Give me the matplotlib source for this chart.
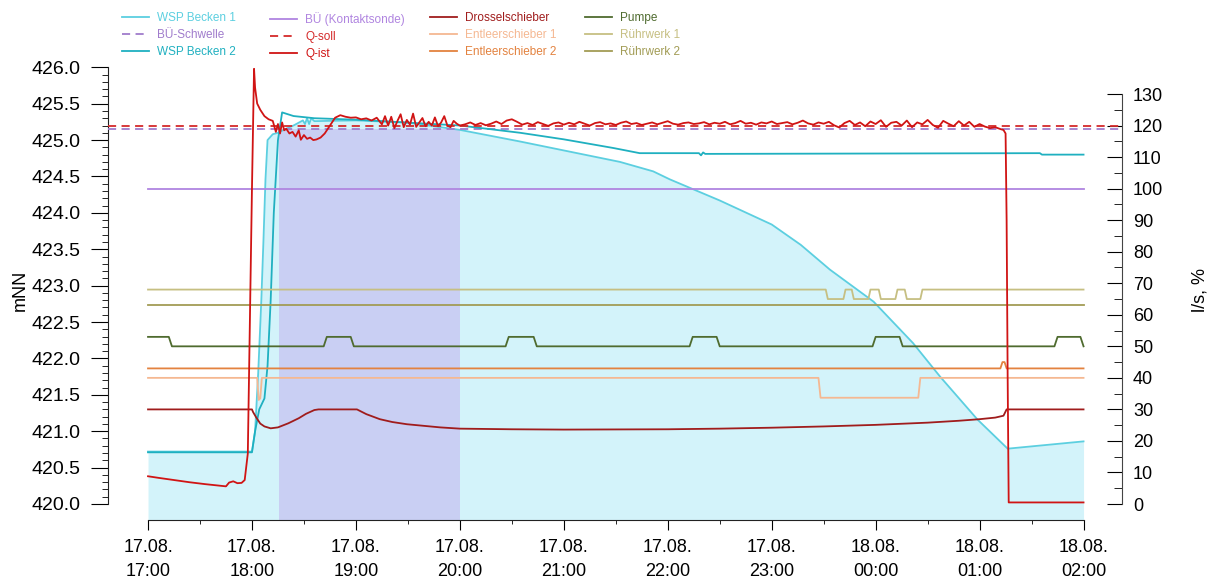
import numpy as np
import pandas as pd
import matplotlib
matplotlib.use("Agg")
import matplotlib.pyplot as plt
import matplotlib.dates as mdates
from matplotlib.ticker import FixedLocator, FormatStrFormatter

plt.rcParams['font.family'] = ['Liberation Sans', 'DejaVu Sans']

# Start of the record, all times below are hours after 17.08. 17:00
base = pd.Timestamp('2021-08-17 17:00')

# Water levels (mNN)
wsp1_t = [0, 1.00, 1.03, 1.06, 1.09, 1.11, 1.13, 1.15, 1.20, 1.25, 1.32, 1.40, 1.49, 1.51, 1.53,
          1.55, 1.57, 1.60, 2.0, 2.5, 3.0, 3.58, 4.06, 4.54, 4.86, 5.02, 5.5, 6.0, 6.28, 6.56,
          6.98, 7.36, 7.62, 7.98, 8.27, 9.0]
wsp1_v = [420.72, 420.72, 421.0, 421.8, 422.8, 423.6, 424.46, 425.0, 425.08, 425.1, 425.15, 425.2,
          425.27, 425.22, 425.3, 425.22, 425.3, 425.26, 425.27, 425.24, 425.14, 424.98, 424.84,
          424.70, 424.57, 424.46, 424.17, 423.84, 423.56, 423.22, 422.78, 422.21, 421.75, 421.16,
          420.76, 420.86]
wsp2_t = [0, 1.00, 1.03, 1.07, 1.12, 1.15, 1.18, 1.21, 1.25, 1.29, 1.40, 1.60, 2.0, 3.0, 3.58,
          4.0, 4.48, 4.73, 5.30, 5.32, 5.34, 5.36, 8.58, 8.60, 9.0]
wsp2_v = [420.71, 420.71, 421.0, 421.3, 421.45, 421.9, 422.8, 424.0, 425.0, 425.38, 425.33, 425.3,
          425.28, 425.2, 425.10, 425.01, 424.89, 424.82, 424.82, 424.79, 424.83, 424.81, 424.82,
          424.80, 424.80]
bue_schwelle = 425.15
ueberlauf_t = [1.26, 3.0]

# Flow / gate values (l/s, %)
q_soll = 120
bue_kontakt = 100
qist_t = [0.00, 0.10, 0.25, 0.40, 0.55, 0.70, 0.75, 0.78, 0.82, 0.86, 0.90, 0.93, 0.96, 0.98,
          1.00, 1.02, 1.03, 1.05, 1.08, 1.12, 1.16, 1.20, 1.23, 1.25, 1.27, 1.29, 1.31, 1.33,
          1.36, 1.39, 1.42, 1.45, 1.47, 1.50, 1.53, 1.56, 1.59, 1.62, 1.66, 1.70, 1.75, 1.80,
          1.85, 1.90, 1.95, 2.00, 2.05, 2.10, 2.15, 2.20, 2.25, 2.28, 2.31, 2.34, 2.37, 2.40,
          2.43, 2.46, 2.49, 2.52, 2.55, 2.58, 2.61, 2.64, 2.67, 2.70, 2.73, 2.76, 2.79, 2.82,
          2.85, 2.88, 2.91, 2.94, 2.97, 3.00]
qist_v = [8.8, 8.3, 7.6, 6.9, 6.3, 5.8, 5.6, 6.8, 7.2, 6.6, 6.7, 7.6, 16, 58,
          100, 138, 132, 127, 125, 123, 122, 121.5, 118, 120.5, 117.5, 121, 118.5, 119,
          117.5, 118, 116.5, 118.5, 115.5, 117, 115.8, 116.2, 115.4, 115.6, 116.2, 117.5, 120, 122.5,
          123.3, 122.8, 122.5, 122.6, 122.0, 122.3, 121.6, 122.5, 120.4, 123.0, 120.0, 122.8, 119.2, 121.5,
          123.6, 119.5, 121.8, 120.3, 123.8, 119.6, 121.0, 122.4, 119.8, 121.2, 120.0, 122.6, 119.8, 121.0,
          123.0, 120.0, 119.5, 121.5, 120.6, 120.0]
# logger samples every 3 min from 20:03 to 01:12
qist_late = [120.4, 121.0, 120.2, 120.8, 120.1, 120.6, 121.3, 120.5,
             121.6, 122.0, 121.2, 120.3,
             120.8, 120.2, 121.1, 120.5, 119.9, 120.7, 121.0, 120.3, 120.9, 120.4, 121.2, 120.6,
             120.0, 120.8, 121.1, 120.4, 120.7, 120.2,
             120.9, 121.3, 120.5, 120.8, 120.2, 120.6, 121.0, 120.4, 120.9, 121.4, 120.6, 120.3,
             120.8, 121.0, 120.5, 120.7, 121.1, 120.4, 120.9, 120.6,
             121.2, 120.4, 120.8, 121.5, 120.6, 120.9, 120.3, 121.0, 120.7, 121.3, 120.5, 120.8,
             121.1, 120.4, 120.9, 121.6, 120.7, 120.3, 121.0, 120.6,
             121.2, 120.1, 119.4, 120.8, 121.5, 120.2, 121.0, 119.8, 121.3, 120.5, 121.7, 119.6,
             120.9, 121.2, 120.0, 121.6, 119.5, 121.0, 120.4, 121.8,
             120.2, 119.3, 121.5, 120.6, 119.8, 121.4, 120.0, 121.2, 119.6, 120.5, 119.7, 119.2,
             119.5, 118.9]
qist_late_t = 3.05 + 0.05 * np.arange(len(qist_late))
qist_end_t = [8.23, 8.25, 8.26, 8.27, 8.28, 9.0]
qist_end_v = [118.6, 117.5, 90, 40, 0.5, 0.5]

drossel_t = [0, 1.00, 1.01, 1.04, 1.08, 1.12, 1.18, 1.25, 1.35, 1.45, 1.52, 1.60, 1.64, 2.01,
             2.10, 2.23, 2.35, 2.49, 2.65, 2.81, 3.0, 3.5, 4.0, 5.0, 5.5, 6.0, 6.5, 7.0, 7.5,
             7.8, 8.0, 8.15, 8.23, 8.26, 9.0]
drossel_v = [30, 30, 29.2, 27.5, 25.5, 24.6, 24.0, 24.3, 25.6, 27.2, 28.6, 29.8, 30, 30,
             28.5, 26.9, 26.0, 25.3, 24.8, 24.3, 23.9, 23.7, 23.6, 23.7, 23.9, 24.2, 24.6, 25.1,
             25.8, 26.4, 26.9, 27.4, 28.0, 30, 30]
es1_t = [0, 1.05, 1.065, 1.08, 1.095, 6.45, 6.47, 7.41, 7.43, 9.0]
es1_v = [40, 40, 33, 33.5, 40, 40, 33.7, 33.7, 40, 40]
es2_t = [0, 8.20, 8.22, 8.24, 8.26, 9.0]
es2_v = [43, 43, 45, 45, 43, 43]
pumpe_t = [0, 0.20, 0.23, 1.69, 1.72, 1.95, 1.98, 3.44, 3.47, 3.71, 3.74, 5.21, 5.24, 5.47,
           5.50, 6.97, 7.00, 7.23, 7.26, 8.72, 8.75, 8.97, 9.0]
pumpe_v = [53, 53, 50, 50, 53, 53, 50, 50, 53, 53, 50, 50, 53, 53,
           50, 50, 53, 53, 50, 50, 53, 53, 50]
rw1_t = [0, 6.52, 6.54, 6.69, 6.71, 6.77, 6.79, 6.93, 6.95, 7.03, 7.05, 7.19, 7.21, 7.28,
         7.30, 7.43, 7.45, 9.0]
rw1_v = [68, 68, 65, 65, 68, 68, 65, 65, 68, 68, 65, 65, 68, 68, 65, 65, 68, 68]
rw2_t = [0, 9.0]
rw2_v = [63, 63]
bue_t = [0, 9.0]


def T(h):
    return base + pd.to_timedelta(np.asarray(h, dtype=float), unit='h')


def num(h):
    return mdates.date2num(T(h))


fig = plt.figure(figsize=(12.11, 5.83), dpi=100)
ax = fig.add_axes([108 / 1211, 63 / 583, 1014 / 1211, 460 / 583])
ax2 = ax.twinx()

ylo, yhi = 419.78, 426.10
ax.set_ylim(ylo, yhi)
ax2.set_ylim(-5.07, 140.8)
ax.set_xlim(T(-0.385), T(9.37))

# filled basin level + overflow period
ax.fill_between(T(wsp1_t), ylo, wsp1_v, color='#d3f3fa', lw=0, zorder=1)
ax.fill_between(T(ueberlauf_t), ylo, bue_schwelle, color='#c9cff3', lw=0, zorder=2)

c = dict(wsp1='#5ccfe0', wsp2='#1fb0c0', schwelle='#a07ccc', kontakt='#b085e0', qsoll='#d42a2a',
         qist='#d01414', drossel='#a01c1c', es1='#f5b892', es2='#e3823f', pumpe='#4f6b2f',
         rw1='#c6bf82', rw2='#a29c55')
lw = 1.3
h = {}
h['wsp1'], = ax.plot(T(wsp1_t), wsp1_v, color=c['wsp1'], lw=lw, zorder=5, label='WSP Becken 1')
h['schwelle'] = ax.axhline(bue_schwelle, color=c['schwelle'], lw=lw, dashes=(4.5, 3), zorder=5,
                           label='BÜ-Schwelle')
h['wsp2'], = ax.plot(T(wsp2_t), wsp2_v, color=c['wsp2'], lw=lw, zorder=5, label='WSP Becken 2')

h['kontakt'], = ax2.plot(T(bue_t), [bue_kontakt] * 2, color=c['kontakt'], lw=lw, label='BÜ (Kontaktsonde)')
h['qsoll'] = ax2.axhline(q_soll, color=c['qsoll'], lw=lw, dashes=(4.5, 3), label='Q-soll')
h['drossel'], = ax2.plot(T(drossel_t), drossel_v, color=c['drossel'], lw=lw, label='Drosselschieber')
h['es1'], = ax2.plot(T(es1_t), es1_v, color=c['es1'], lw=lw, label='Entleerschieber 1')
h['es2'], = ax2.plot(T(es2_t), es2_v, color=c['es2'], lw=lw, label='Entleerschieber 2')
h['pumpe'], = ax2.plot(T(pumpe_t), pumpe_v, color=c['pumpe'], lw=lw, label='Pumpe')
h['rw1'], = ax2.plot(T(rw1_t), rw1_v, color=c['rw1'], lw=lw, label='Rührwerk 1')
h['rw2'], = ax2.plot(T(rw2_t), rw2_v, color=c['rw2'], lw=lw, label='Rührwerk 2')
qt = list(qist_t) + list(qist_late_t) + qist_end_t
qv = qist_v + qist_late + qist_end_v
h['qist'], = ax2.plot(T(qt), qv, color=c['qist'], lw=lw, label='Q-ist')

# spines
for a in (ax, ax2):
    a.spines['top'].set_visible(False)
ax.spines['right'].set_visible(False)
ax2.spines['left'].set_visible(False)
ax2.spines['bottom'].set_visible(False)
ax.spines['left'].set_bounds(420, 426)
ax2.spines['right'].set_bounds(0, 130)
ax.spines['bottom'].set_bounds(num(0), num(9))
for s in ('left', 'bottom'):
    ax.spines[s].set_color('#222222')
ax2.spines['right'].set_color('#444444')

# left axis
ax.yaxis.set_major_locator(FixedLocator(np.arange(420, 426.01, 0.5)))
ax.yaxis.set_minor_locator(FixedLocator(np.arange(420, 426.01, 0.1)))
ax.yaxis.set_major_formatter(FormatStrFormatter('%.1f'))
ax.tick_params(axis='y', which='major', direction='out', length=12, labelsize=14, pad=8)
ax.tick_params(axis='y', which='minor', direction='out', length=4)

# right axis
ax2.yaxis.set_major_locator(FixedLocator(np.arange(0, 131, 10)))
ax2.yaxis.set_minor_locator(FixedLocator(np.arange(0, 131, 5)))
ax2.tick_params(axis='y', which='major', direction='in', length=11, labelsize=13, pad=8)
ax2.tick_params(axis='y', which='minor', direction='in', length=6)

# time axis
ax.xaxis.set_major_locator(FixedLocator(num(np.arange(0, 10))))
ax.xaxis.set_minor_locator(FixedLocator(num(np.arange(0.5, 9, 1))))
ax.xaxis.set_major_formatter(mdates.DateFormatter('%d.%m.\n%H:%M'))
ax.tick_params(axis='x', which='major', direction='out', length=7, labelsize=13, pad=7)
ax.tick_params(axis='x', which='minor', direction='out', length=3)
for lab in ax.get_xticklabels():
    lab.set_linespacing(1.5)

ax.set_ylabel('mNN', fontsize=13, labelpad=2)
ax2.set_ylabel('l/s, %', fontsize=13, labelpad=20)

# legend in four blocks above the plot
groups = [['wsp1', 'schwelle', 'wsp2'], ['kontakt', 'qsoll', 'qist'],
          ['drossel', 'es1', 'es2'], ['pumpe', 'rw1', 'rw2']]
x0 = [122, 270, 430, 585]
for g, x in zip(groups, x0):
    leg = fig.legend(handles=[h[k] for k in g], loc='upper left',
                     bbox_to_anchor=(x / 1211, 1 - 12 / 583), frameon=False, fontsize=8.5,
                     handlelength=2.3, handletextpad=0.7, labelspacing=0.42,
                     borderpad=0, borderaxespad=0)
    for txt, k in zip(leg.get_texts(), g):
        txt.set_color(h[k].get_color())

fig.savefig('out.png', dpi=100)
